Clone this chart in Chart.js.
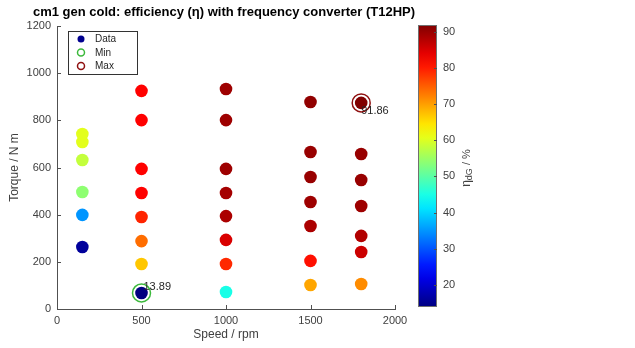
<!DOCTYPE html>
<html>
<head>
<meta charset="utf-8">
<title>cm1 gen cold efficiency</title>
<script src="https://cdn.jsdelivr.net/npm/chart.js@4.4.1/dist/chart.umd.min.js"></script>
<style>
  html, body { margin: 0; padding: 0; background: #fff; }
  canvas { display: block; }
</style>
</head>
<body>
<canvas id="myChart" width="635" height="348"></canvas>
<script>
'use strict';

// operating points
const speed = [150, 150, 150, 150, 150, 150,
  500, 500, 500, 500, 500, 500, 500, 500,
  1000, 1000, 1000, 1000, 1000, 1000, 1000, 1000,
  1500, 1500, 1500, 1500, 1500, 1500, 1500,
  1800, 1800, 1800, 1800, 1800, 1800, 1800];
const torque = [263, 399, 496, 632, 708, 742,
  68, 191, 288, 390, 492, 594, 801, 925,
  72, 191, 293, 394, 492, 594, 801, 933,
  102, 204, 352, 454, 560, 666, 878,
  106, 242, 310, 437, 547, 657, 874];
const eta = [16, 35, 54, 58, 60.5, 60.5,
  13.89, 66.9, 73.8, 79.4, 82, 82, 82, 82,
  45, 79, 85, 88.5, 89, 89.5, 89.5, 89.5,
  69.4, 81, 88.5, 89.5, 90, 90, 90.5,
  71.4, 86, 88, 89.5, 90, 90, 91.86];

const xTicks = [0, 500, 1000, 1500, 2000];
const yTicks = [0, 200, 400, 600, 800, 1000, 1200];
const cbTicks = [20, 30, 40, 50, 60, 70, 80, 90];

const etaMin = Math.min(...eta);
const etaMax = Math.max(...eta);
const iMin = eta.indexOf(etaMin);
const iMax = eta.indexOf(etaMax);

const textColor = '#404040';
const axisColor = '#505050';
const fontFam = '"Liberation Sans", Arial, sans-serif';

function clamp(v) {
  return Math.max(0, Math.min(1, v));
}

// matlab jet colormap
function jet(value) {
  let v = (value - etaMin) / (etaMax - etaMin);
  let r = clamp(1.5 - Math.abs(4 * v - 3));
  let g = clamp(1.5 - Math.abs(4 * v - 2));
  let b = clamp(1.5 - Math.abs(4 * v - 1));
  return 'rgb(' + Math.round(r * 255) + ',' + Math.round(g * 255) + ',' + Math.round(b * 255) + ')';
}

const points = speed.map((s, i) => ({ x: s, y: torque[i] }));

const extras = {
  id: 'extras',
  afterDraw(chart) {
    const c = chart.ctx;
    const area = chart.chartArea;
    const xs = chart.scales.x;
    const ys = chart.scales.y;

    c.save();
    // title
    c.fillStyle = '#000';
    c.font = 'bold 13px ' + fontFam;
    c.textAlign = 'center';
    c.textBaseline = 'middle';
    c.fillText('cm1 gen cold: efficiency (\u03b7) with frequency converter (T12HP)', (area.left + area.right) / 2 - 2, 12);

    // inward ticks
    c.strokeStyle = axisColor;
    c.lineWidth = 1;
    c.beginPath();
    xTicks.forEach(t => {
      let px = Math.round(xs.getPixelForValue(t)) + 0.5;
      c.moveTo(px, area.bottom);
      c.lineTo(px, area.bottom - 4);
    });
    yTicks.forEach(t => {
      let py = Math.round(ys.getPixelForValue(t)) + 0.5;
      c.moveTo(area.left, py);
      c.lineTo(area.left + 4, py);
    });
    c.stroke();

    // min / max labels
    c.fillStyle = '#262626';
    c.font = '11px ' + fontFam;
    c.textAlign = 'left';
    c.textBaseline = 'middle';
    c.fillText(etaMin.toFixed(2), xs.getPixelForValue(speed[iMin]) + 2, ys.getPixelForValue(torque[iMin]) - 6);
    c.fillText(etaMax.toFixed(2), xs.getPixelForValue(speed[iMax]), ys.getPixelForValue(torque[iMax]) + 8);

    // legend box
    c.fillStyle = '#fff';
    c.fillRect(68, 31, 69, 43);
    c.strokeStyle = '#333';
    c.strokeRect(68.5, 31.5, 69, 43);
    const items = [['Data', 'dot', '#00008f'], ['Min', 'ring', '#3cb93c'], ['Max', 'ring', '#8f1010']];
    items.forEach((it, k) => {
      let yy = 39 + k * 13.5;
      c.beginPath();
      c.arc(81, yy, 3.5, 0, Math.PI * 2);
      if (it[1] === 'dot') {
        c.fillStyle = it[2];
        c.fill();
      } else {
        c.strokeStyle = it[2];
        c.lineWidth = 1.5;
        c.stroke();
      }
      c.fillStyle = '#262626';
      c.font = '10px ' + fontFam;
      c.fillText(it[0], 95, yy + 0.5);
    });

    // colorbar
    const cbL = 418, cbR = 437, cbT = 25, cbB = 307;
    const grad = c.createLinearGradient(0, cbB, 0, cbT);
    for (let s = 0; s <= 20; s++) {
      grad.addColorStop(s / 20, jet(etaMin + (etaMax - etaMin) * s / 20));
    }
    c.fillStyle = grad;
    c.fillRect(cbL, cbT, cbR - cbL, cbB - cbT);
    c.strokeStyle = '#707070';
    c.lineWidth = 1;
    c.strokeRect(cbL + 0.5, cbT + 0.5, cbR - cbL - 1, cbB - cbT - 1);
    c.fillStyle = textColor;
    c.font = '11px ' + fontFam;
    c.textAlign = 'left';
    cbTicks.forEach(t => {
      let py = cbB - (t - etaMin) / (etaMax - etaMin) * (cbB - cbT);
      c.strokeStyle = '#505050';
      c.beginPath();
      c.moveTo(cbR, Math.round(py) + 0.5);
      c.lineTo(cbR - 3, Math.round(py) + 0.5);
      c.stroke();
      c.fillText(String(t), 443, py);
    });

    // colorbar label, rotated
    c.translate(467, 168);
    c.rotate(-Math.PI / 2);
    c.textAlign = 'left';
    c.font = '12px ' + fontFam;
    let w1 = c.measureText('\u03b7').width;
    c.font = '9px ' + fontFam;
    let w2 = c.measureText('dG').width;
    c.font = '11px ' + fontFam;
    let w3 = c.measureText(' / %').width;
    let x0 = -(w1 + w2 + w3) / 2;
    c.font = '12px ' + fontFam;
    c.fillText('\u03b7', x0, 0);
    c.font = '9px ' + fontFam;
    c.fillText('dG', x0 + w1, 3);
    c.font = '11px ' + fontFam;
    c.fillText(' / %', x0 + w1 + w2, 0);
    c.restore();
  }
};

const ctx = document.getElementById('myChart').getContext('2d');

new Chart(ctx, {
  type: 'scatter',
  data: {
    datasets: [
      {
        label: 'Data',
        data: points,
        pointRadius: 6.3,
        pointHoverRadius: 6.3,
        borderWidth: 0,
        backgroundColor: c => jet(eta[c.dataIndex]),
        order: 1
      },
      {
        label: 'Min',
        data: [points[iMin]],
        pointRadius: 9,
        borderWidth: 1.5,
        borderColor: '#3cb93c',
        backgroundColor: '#fff',
        order: 2
      },
      {
        label: 'Max',
        data: [points[iMax]],
        pointRadius: 9,
        borderWidth: 1.5,
        borderColor: '#8f1010',
        backgroundColor: '#fff',
        order: 2
      }
    ]
  },
  options: {
    responsive: false,
    animation: false,
    devicePixelRatio: 1,
    layout: { padding: { top: 26, right: 240, left: 0, bottom: 0 } },
    plugins: {
      legend: { display: false },
      title: { display: false },
      tooltip: { enabled: false }
    },
    scales: {
      x: {
        type: 'linear',
        min: 0,
        max: 2000,
        afterFit: s => { s.height = 39; },
        afterBuildTicks: s => { s.ticks = xTicks.map(v => ({ value: v })); },
        grid: { display: false, drawTicks: false },
        border: { display: true, color: axisColor, width: 1 },
        ticks: { color: textColor, padding: 5, maxRotation: 0, callback: v => String(v), font: { family: fontFam, size: 11 } },
        title: { display: true, text: 'Speed / rpm', color: textColor, padding: { top: 0, bottom: 6 }, font: { family: fontFam, size: 12 } }
      },
      y: {
        type: 'linear',
        min: 0,
        max: 1200,
        afterFit: s => { s.width = 57; },
        afterBuildTicks: s => { s.ticks = yTicks.map(v => ({ value: v })); },
        grid: { display: false, drawTicks: false },
        border: { display: true, color: axisColor, width: 1 },
        ticks: { color: textColor, padding: 6, callback: v => String(v), font: { family: fontFam, size: 11 } },
        title: { display: true, text: 'Torque / N m', color: textColor, padding: { top: 7, bottom: 0 }, font: { family: fontFam, size: 12 } }
      }
    }
  },
  plugins: [extras]
});
</script>
</body>
</html>
